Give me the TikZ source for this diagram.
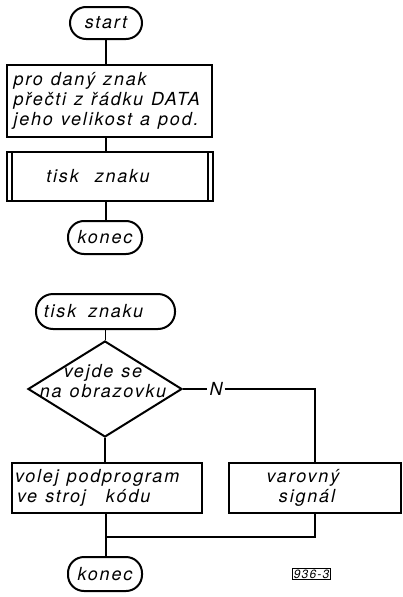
\documentclass[tikz,border=0pt]{standalone}
\usepackage{fontspec}
\setmainfont{TeX Gyre Heros}[LetterSpace=10]
\usepackage{tikz}
\usetikzlibrary{shapes.geometric,positioning,calc}

\newcommand\chartfont{\itshape\fontsize{18}{20}\selectfont}
\tikzset{
  txt/.style={inner sep=0pt,font=\chartfont,execute at begin node={\spaceskip 8pt plus 2pt\relax}},
  flow/.style={txt,draw,line width=2pt},
  term/.style={flow,rectangle,rounded corners=16pt},
  proc/.style={flow,rectangle},
  decide/.style={flow,diamond,minimum width=154pt,minimum height=96pt},
  link/.style={line width=1.2pt},
}

\begin{document}
\begin{tikzpicture}[x=1pt,y=-1pt]
  \useasboundingbox (0,0) rectangle (402,597);
  % main program
  \node[term,minimum width=72pt,minimum height=32pt] (start) at (106,23) {start};
  \node[proc,minimum width=205pt,minimum height=72pt,text width=192pt,align=left] (read) at (109.5,101)
    {pro daný znak\\přečti z řádku DATA\\jeho velikost a pod.};
  \node[proc,minimum width=206pt,minimum height=49pt] (print) at (110,176.5) {tisk\hspace{8pt} znaku\hspace*{24pt}};
  \draw[line width=2pt] ([xshift=6pt]print.north west) -- ([xshift=6pt]print.south west);
  \draw[line width=2pt] ([xshift=-6pt]print.north east) -- ([xshift=-6pt]print.south east);
  \node[term,minimum width=74pt,minimum height=33pt] (end1) at (105,237.5) {konec};
  \draw[link] (start.south) -- (start.south |- read.north);
  \draw[link] (read.south -| start.south) -- (print.north -| start.south);
  \draw[link] (print.south -| start.south) -- (end1.north -| start.south);
  % subroutine
  \node[term,rounded corners=17pt,minimum width=139pt,minimum height=35pt] (sub) at (105.5,311.5) {tisk\hspace{4pt} znaku\hspace*{24pt}};
  \node[decide] (fits) at (105,389) {};
  \node[txt,align=center] (fitstext) at (103,381) {vejde se\\na obrazovku};
  \node[txt,inner sep=2pt] (no) at (216,389) {N};
  \node[proc,minimum width=190pt,minimum height=50pt,text width=184pt,align=left] (call) at (107,488)
    {volej podprogram\\\hspace*{2pt}ve stroj\hspace{12pt} kódu};
  \node[proc,minimum width=172pt,minimum height=50pt,align=center] (warn) at (315,488)
    {varovný\hspace*{24pt}\\signál\hspace*{16pt}};
  \coordinate (join) at (106,537);
  \node[term,minimum width=74pt,minimum height=34pt] (end2) at (105,574) {konec};
  \node[draw,line width=0.9pt,inner sep=1pt,font=\itshape\fontsize{12}{14}\selectfont] (fig) at (311.5,574) {936-3};
  \draw[link] (sub.south) -- (sub.south |- fits.north);
  \draw[link] (fits.south) -- (fits.south |- call.north);
  \draw[link] (fits.east) -- (no.west);
  \draw[link] (no.east) -- (no.east -| warn.north) -- (warn.north);
  \draw[link] (call.south -| join) -- (join) -- (end2.north -| join);
  \draw[link] (warn.south) -- (warn.south |- join) -- (join);
\end{tikzpicture}
\end{document}
